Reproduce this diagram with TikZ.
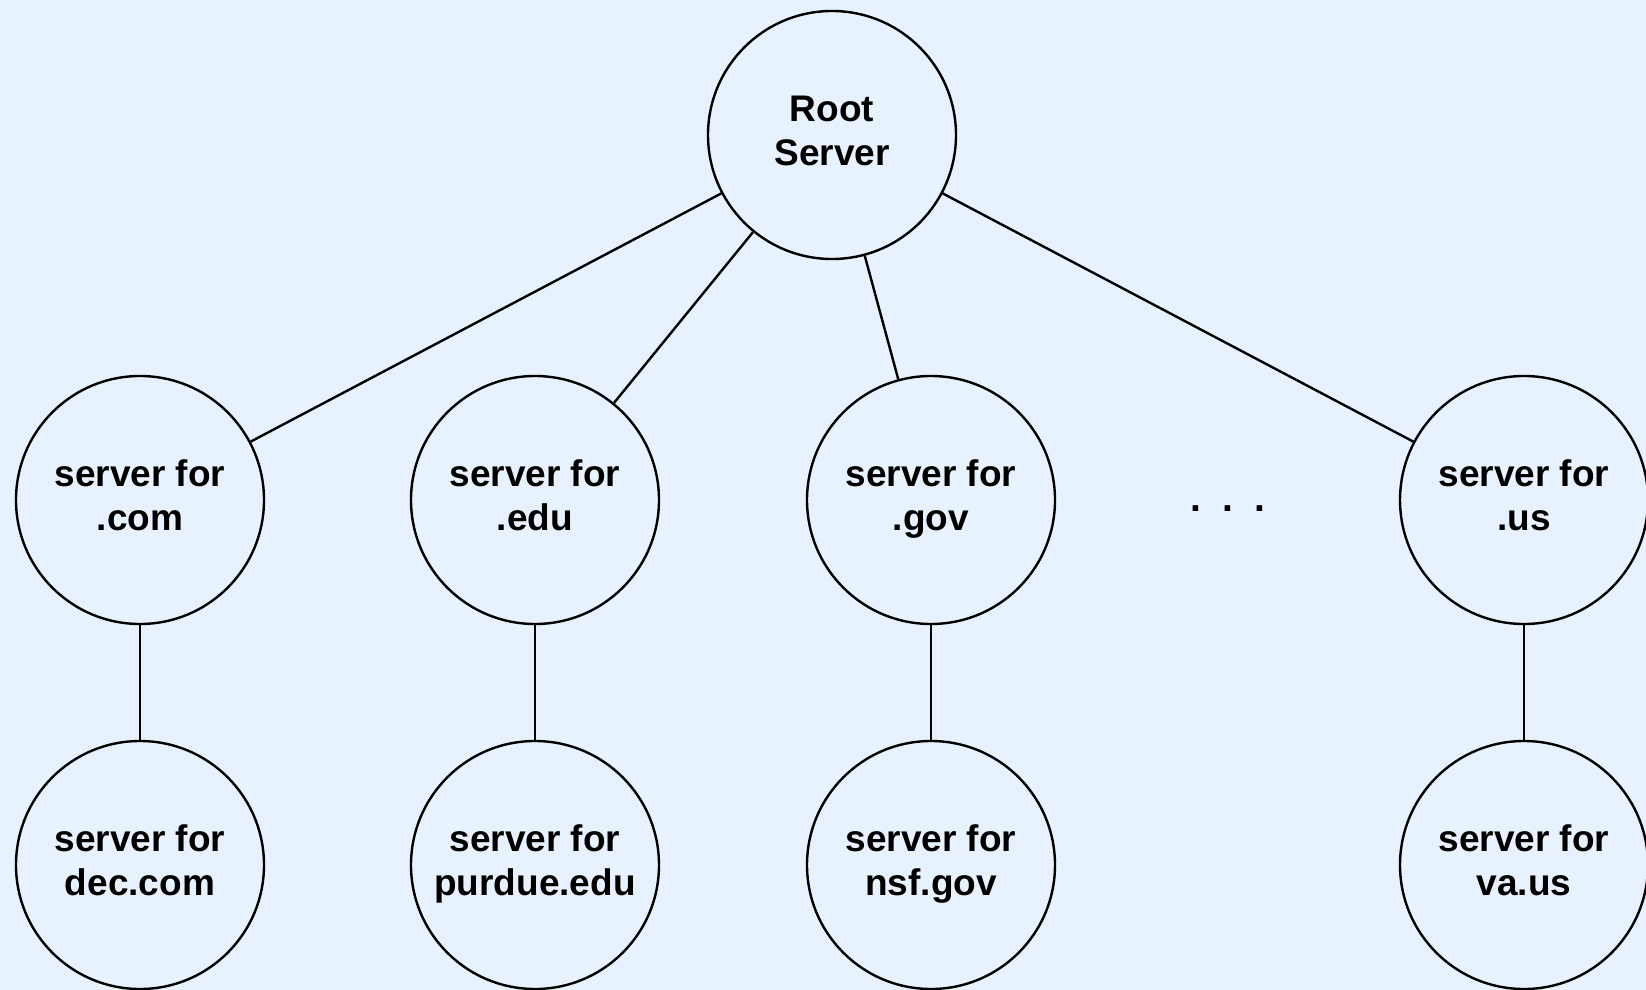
\documentclass[tikz,border=0pt]{standalone}
\usepackage{fontspec}
\setmainfont{Liberation Sans}
\definecolor{bgblue}{RGB}{232,242,254}
\begin{document}
\begin{tikzpicture}[x=1pt,y=-1pt,
  server/.style={circle,draw=black,line width=2.4pt,minimum size=248pt,inner sep=0pt,
    align=center,font=\fontsize{37}{44}\selectfont\bfseries},
  link/.style={line width=2.4pt,draw=black}]
  \fill[bgblue] (0,0) rectangle (1646,990);
  \useasboundingbox (0,0) rectangle (1646,990);

  % top level
  \node[server] (root) at (832,135) {\strut Root\\\strut Server};

  % second level
  \node[server] (com) at (140,500) {\strut server for\\\strut .com};
  \node[server] (edu) at (535,500) {\strut server for\\\strut .edu};
  \node[server] (gov) at (931,500) {\strut server for\\\strut .gov};
  \node[server] (us)  at (1524,500) {\strut server for\\\strut .us};
  \node[font=\fontsize{39}{44}\selectfont\bfseries,inner sep=0pt] (dots) at (1228,509)
    {.\hspace{21pt}.\hspace{21pt}.};

  % third level
  \node[server] (dec)    at (140,865) {\strut server for\\\strut dec.com};
  \node[server] (purdue) at (535,865) {\strut server for\\\strut purdue.edu};
  \node[server] (nsf)    at (931,865) {\strut server for\\\strut nsf.gov};
  \node[server] (va)     at (1524,865) {\strut server for\\\strut va.us};

  \draw[link] (root) -- (com);
  \draw[link] (root) -- (edu);
  \draw[link] (root) -- (gov);
  \draw[link] (root) -- (us);
  \draw[link] (com) -- (dec);
  \draw[link] (edu) -- (purdue);
  \draw[link] (gov) -- (nsf);
  \draw[link] (us) -- (va);
\end{tikzpicture}
\end{document}
